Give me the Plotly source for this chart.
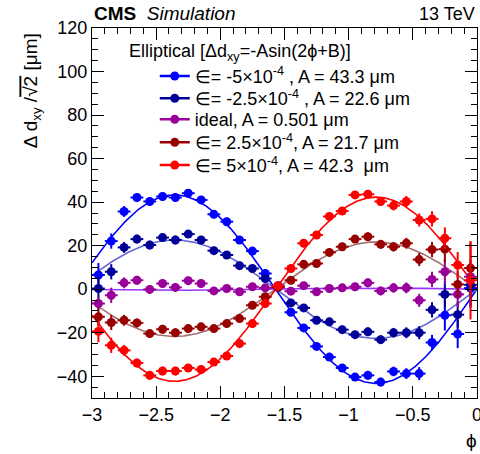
import numpy as np
import plotly.graph_objects as go

# bin centres in phi
phi = [-2.95, -2.85, -2.75, -2.65, -2.55, -2.45, -2.35, -2.25, -2.15, -2.05,
       -1.95, -1.85, -1.75, -1.65, -1.55, -1.45, -1.35, -1.25, -1.15, -1.05,
       -0.95, -0.85, -0.75, -0.65, -0.55, -0.45, -0.35, -0.25, -0.15, -0.05]
phi_halfwidth = 0.05

y_m5 = [6.5, 22.1, 35.7, 42.1, 40.3, 42.6, 42.1, 44.1, 41.0, 34.4, 31.0, 22.6, 17.5, 7.2, 1.6,
        -10.6, -17.8, -26.3, -31.2, -36.2, -40.4, -39.6, -42.7, -37.8, -38.8, -38.8, -24.5, -12.0, -20.6, 0.5]
e_m5 = [5.5, 3.5, 2.5, 2, 2, 2, 2, 1.8, 1.8, 1.8, 1.8, 1.8, 1.8, 1.8, 1.8,
        1.8, 1.8, 1.8, 1.8, 1.8, 1.8, 2, 2, 2.2, 2.5, 3, 3.5, 7, 6.5, 9]

y_m25 = [0.3, 8.0, 19.2, 23.0, 20.3, 23.7, 22.6, 25.3, 22.6, 17.7, 15.7, 10.8, 9.5, 4.9, 0.8,
         -6.3, -8.6, -14.3, -15.0, -18.6, -20.9, -19.6, -23.2, -20.0, -20.0, -20.0, -9.5, -2.4, -11.7, 2.0]
e_m25 = [5, 3.5, 2.5, 2, 2, 2, 2, 1.8, 1.8, 1.8, 1.8, 1.8, 1.8, 1.8, 1.8,
         1.8, 1.8, 1.8, 1.8, 1.8, 1.8, 2, 2, 2.2, 2.5, 3, 3.5, 6, 6, 10]

y_ideal = [-6.6, -2.8, 2.9, 4.1, -0.1, 2.6, 0.8, 3.9, 2.6, -0.8, 0.3, -1.2, 1.1, 0.6, 0.8,
           -0.9, 1.6, -1.2, 0.3, 0.6, 1.1, 2.9, -0.8, 0.6, 0.6, -5.1, 4.5, 8.0, -2.4, 5.7]
e_ideal = [3, 3.5, 2.5, 2, 2, 2, 2, 1.8, 1.8, 1.8, 1.8, 1.8, 1.8, 1.8, 1.8,
           1.8, 1.8, 1.8, 1.8, 1.8, 1.8, 2, 2, 2.2, 2.5, 3, 3.5, 6, 6, 8]

y_p25 = [-12.7, -15.3, -14.3, -15.5, -20.4, -18.4, -20.0, -18.1, -17.3, -18.1, -15.8, -13.5, -7.4, -3.5, 1.0,
         4.1, 11.4, 11.8, 16.9, 19.5, 23.0, 24.1, 20.6, 19.5, 21.1, 13.6, 18.2, 18.4, 2.2, 9.7]
e_p25 = [4, 3.5, 2.5, 2, 2, 2, 2, 1.8, 1.8, 1.8, 1.8, 1.8, 1.8, 1.8, 1.8,
         1.8, 1.8, 1.8, 1.8, 1.8, 1.8, 2, 2, 2.2, 2.5, 3, 3.5, 6, 6, 12]

y_p5 = [-19.4, -25.8, -28.1, -33.9, -39.6, -37.6, -37.6, -36.2, -36.9, -33.5, -30.7, -25.0, -15.8, -6.6, 1.6,
        9.5, 21.1, 24.9, 33.4, 35.9, 43.3, 43.6, 40.3, 38.4, 40.3, 31.8, 32.3, 23.4, 11.1, 4.1]
e_p5 = [5, 3.5, 2.5, 2, 2, 2, 2, 1.8, 1.8, 1.8, 1.8, 1.8, 1.8, 1.8, 1.8,
        1.8, 1.8, 1.8, 1.8, 1.8, 1.8, 2, 2, 2.2, 2.5, 3, 3.5, 5, 6, 18]

# fit parameters: dd = -A sin(2 phi + B)
fit_A = [43.3, 22.6, 0.501, 21.7, 42.3]
fit_B = [3.14159, 3.14159, 0.0, 0.0, 0.0]

labels = ["∈= -5×10<sup>-4</sup> , A = 43.3 μm",
          "∈= -2.5×10<sup>-4</sup> , A = 22.6 μm",
          "ideal, A = 0.501 μm",
          "∈= 2.5×10<sup>-4</sup>, A = 21.7 μm",
          "∈= 5×10<sup>-4</sup>, A = 42.3  μm"]
marker_colors = ["#0000ff", "#000099", "#990099", "#990000", "#ff0000"]
fit_colors = ["#0000ff", "#6a6ad6", "#9933ff", "#a27070", "#ff0000"]
legend_rows_y = [0.8696, 0.8092, 0.7524, 0.6901, 0.6287]

series_y = [y_m5, y_m25, y_ideal, y_p25, y_p5]
series_e = [e_m5, e_m25, e_ideal, e_p25, e_p5]

FONT = "Liberation Sans, Arial, Helvetica, sans-serif"
fig = go.Figure()

phi_fit = np.linspace(-3, 0, 301)
for A, B, c in zip(fit_A, fit_B, fit_colors):
    fig.add_trace(go.Scatter(x=phi_fit, y=-A * np.sin(2 * phi_fit + B), mode="lines",
                             line=dict(color=c, width=1.6), showlegend=False, hoverinfo="skip"))

for ys, es, c in zip(series_y, series_e, marker_colors):
    fig.add_trace(go.Scatter(
        x=phi, y=ys, mode="markers",
        marker=dict(color=c, size=9, symbol="circle"),
        error_y=dict(type="data", array=es, color=c, thickness=2, width=0),
        error_x=dict(type="constant", value=phi_halfwidth, color=c, thickness=2, width=0),
        showlegend=False))

legend_layout = {}
for i, (c, lab, ly) in enumerate(zip(marker_colors, labels, legend_rows_y)):
    key = "legend" if i == 0 else f"legend{i + 1}"
    fig.add_trace(go.Scatter(x=[None], y=[None], mode="lines+markers", name=lab, legend=key,
                             line=dict(color=c, width=2.5), marker=dict(color=c, size=9)))
    legend_layout[key] = dict(x=0.163, y=ly, xanchor="left", yanchor="middle",
                              bgcolor="rgba(0,0,0,0)", font=dict(size=18, family=FONT))

fig.update_layout(
    width=480, height=454,
    margin=dict(l=92, r=3, t=28, b=56, autoexpand=False),
    paper_bgcolor="white", plot_bgcolor="white",
    font=dict(family=FONT, size=18, color="black"),
    showlegend=True,
    **legend_layout,
)
fig.update_xaxes(range=[-3, 0.0005], showline=True, linecolor="black", linewidth=1, mirror="allticks",
                 ticks="inside", ticklen=12, tickwidth=1, tickcolor="black", dtick=0.5, tick0=0,
                 showgrid=False, zeroline=False, tickfont=dict(size=18, family=FONT),
                 ticklabeloverflow="allow", automargin=False,
                 minor=dict(ticks="inside", ticklen=6, dtick=0.1, tickcolor="black", showgrid=False))
fig.update_yaxes(range=[-50, 120], showline=True, linecolor="black", linewidth=1, mirror="allticks",
                 ticks="inside", ticklen=12, tickwidth=1, tickcolor="black", dtick=20, tick0=0,
                 showgrid=False, zeroline=False, tickfont=dict(size=18, family=FONT),
                 automargin=False,
                 minor=dict(ticks="inside", ticklen=6, dtick=5, tickcolor="black", showgrid=False))

fig.add_annotation(text="<b>CMS</b>  <i>Simulation</i>", xref="paper", yref="paper",
                   x=0, y=1.038, xanchor="left", yanchor="middle", showarrow=False,
                   font=dict(size=19, family=FONT))
fig.add_annotation(text="13 TeV", xref="paper", yref="paper", x=1.0, y=1.038,
                   xanchor="right", yanchor="middle", showarrow=False, font=dict(size=18, family=FONT))
fig.add_annotation(text="Elliptical [Δd<sub>xy</sub>=-Asin(2ϕ+B)]", xref="paper", yref="paper",
                   x=0.09, y=0.934, xanchor="left", yanchor="middle", showarrow=False,
                   font=dict(size=18, family=FONT))
fig.add_annotation(text="Δ d<sub>xy</sub> /<span style='text-decoration:overline'>√2</span> [μm]",
                   xref="paper", yref="paper", x=-0.155, y=0.83, xanchor="center", yanchor="middle",
                   textangle=-90, showarrow=False, font=dict(size=19, family=FONT))
fig.add_annotation(text="ϕ", xref="paper", yref="paper", x=0.985, y=-0.149,
                   xanchor="center", yanchor="bottom", showarrow=False, font=dict(size=19, family=FONT))

fig.write_html("out.html")
